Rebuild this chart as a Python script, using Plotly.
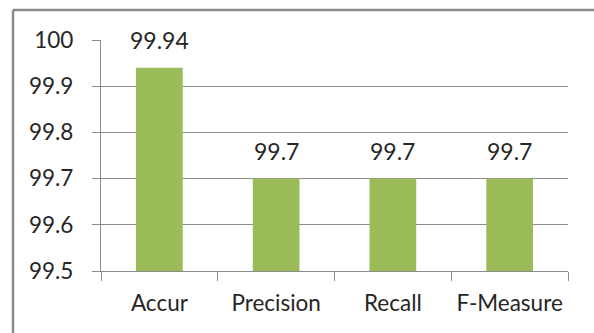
import plotly.graph_objects as go

# Classification metrics (%)
metrics = ["Accur", "Precision", "Recall", "F-Measure"]
scores = [99.94, 99.7, 99.7, 99.7]
score_labels = ["99.94", "99.7", "99.7", "99.7"]
y_ticks = [99.5, 99.6, 99.7, 99.8, 99.9, 100]
y_tick_text = ["99.5", "99.6", "99.7", "99.8", "99.9", "100"]
y_floor = 99.5

W, H = 594, 333
L, R, T, B = 101, 26, 40, 62
plot_w = W - L - R
plot_h = H - T - B

BAR = "#9BBB59"
GRID = "#8C8C8C"
TEXT = "#262626"
FONT = "Lato"

# bars rise from the axis floor up to each score
fig = go.Figure(go.Bar(
    x=metrics, y=[v - y_floor for v in scores], base=y_floor,
    marker=dict(color=BAR, line=dict(width=0)),
    width=0.4, hoverinfo="skip",
))

for m, v, s in zip(metrics, scores, score_labels):
    fig.add_annotation(x=m, y=v, text=s, showarrow=False, yanchor="bottom",
                       yshift=12, font=dict(family=FONT, size=23, color=TEXT))


def px_x(px):
    return (px - L) / plot_w


def px_y(py):
    return (H - B - py) / plot_h


# outer frame (left and top edges visible)
fig.add_shape(type="line", xref="paper", yref="paper",
              x0=px_x(13), x1=px_x(620), y0=px_y(10), y1=px_y(10),
              line=dict(color="#8A8A8A", width=2.5))
fig.add_shape(type="line", xref="paper", yref="paper",
              x0=px_x(13), x1=px_x(13), y0=px_y(10), y1=px_y(360),
              line=dict(color="#8A8A8A", width=2.5))

fig.update_layout(
    width=W, height=H,
    margin=dict(l=L, r=R, t=T, b=B, autoexpand=False),
    paper_bgcolor="white", plot_bgcolor="white",
    showlegend=False,
    font=dict(family=FONT, size=22, color=TEXT),
    xaxis=dict(
        type="category", tickson="boundaries", ticks="outside", ticklen=9,
        tickcolor=GRID, tickwidth=1.2, showline=True, linecolor=GRID, linewidth=1.2,
        showgrid=False, ticklabelstandoff=12, tickangle=0, automargin=False,
        tickfont=dict(family=FONT, size=22.5, color=TEXT),
    ),
    yaxis=dict(
        range=[y_floor, 100], tickvals=y_ticks, ticktext=y_tick_text,
        ticks="outside", ticklen=8, tickcolor=GRID, tickwidth=1.2,
        showline=True, linecolor=GRID, linewidth=1.2,
        showgrid=True, gridcolor=GRID, gridwidth=1.2, zeroline=False,
        ticklabelstandoff=14, automargin=False,
        tickfont=dict(family=FONT, size=22.5, color=TEXT),
    ),
)

fig.write_html("out.html")
